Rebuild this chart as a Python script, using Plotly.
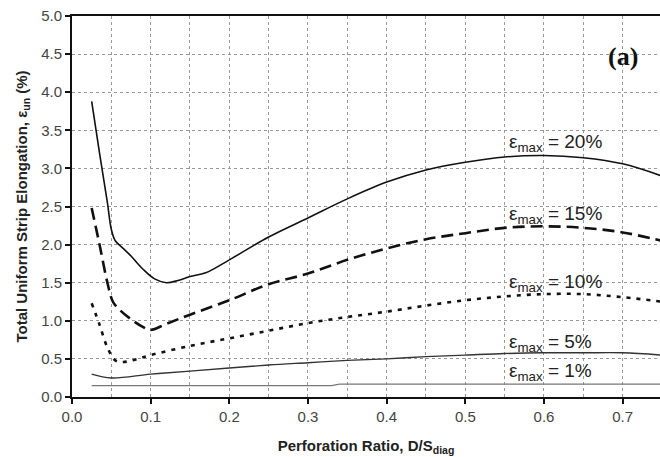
import plotly.graph_objects as go

# ---- data ----
x20 = [0.025, 0.035, 0.045, 0.05, 0.055, 0.065, 0.075, 0.09, 0.105, 0.12, 0.135, 0.15, 0.17, 0.2, 0.25, 0.3, 0.35, 0.4, 0.45, 0.5, 0.55, 0.6, 0.65, 0.7, 0.75]
y20 = [3.88, 3.2, 2.55, 2.2, 2.05, 1.95, 1.85, 1.68, 1.55, 1.50, 1.53, 1.58, 1.63, 1.80, 2.1, 2.35, 2.6, 2.82, 2.98, 3.08, 3.15, 3.17, 3.14, 3.06, 2.9]

x15 = [0.025, 0.035, 0.045, 0.052, 0.06, 0.075, 0.09, 0.1, 0.12, 0.15, 0.2, 0.25, 0.3, 0.35, 0.4, 0.45, 0.5, 0.55, 0.6, 0.65, 0.7, 0.75]
y15 = [2.48, 2.0, 1.5, 1.25, 1.15, 1.02, 0.92, 0.88, 0.96, 1.08, 1.27, 1.48, 1.62, 1.8, 1.95, 2.07, 2.15, 2.22, 2.24, 2.22, 2.16, 2.05]

x10 = [0.025, 0.035, 0.045, 0.055, 0.065, 0.08, 0.1, 0.15, 0.2, 0.25, 0.3, 0.35, 0.4, 0.45, 0.5, 0.55, 0.6, 0.65, 0.7, 0.75]
y10 = [1.23, 0.95, 0.65, 0.48, 0.46, 0.49, 0.55, 0.67, 0.77, 0.87, 0.97, 1.05, 1.12, 1.2, 1.27, 1.32, 1.35, 1.35, 1.31, 1.25]

x5 = [0.025, 0.05, 0.1, 0.15, 0.2, 0.25, 0.3, 0.35, 0.4, 0.45, 0.5, 0.55, 0.6, 0.65, 0.7, 0.75]
y5 = [0.3, 0.25, 0.3, 0.34, 0.38, 0.42, 0.45, 0.48, 0.5, 0.53, 0.55, 0.57, 0.58, 0.58, 0.58, 0.55]

x1 = [0.025, 0.33, 0.34, 0.75]
y1 = [0.15, 0.15, 0.17, 0.17]

labels = ["20%", "15%", "10%", "5%", "1%"]
label_y = [3.33, 2.39, 1.50, 0.71, 0.33]

fig = go.Figure()
fig.add_trace(go.Scatter(x=x20, y=y20, mode="lines", line=dict(color="#111", width=1.6, shape="spline")))
fig.add_trace(go.Scatter(x=x15, y=y15, mode="lines", line=dict(color="#111", width=2.6, dash="12px,6px", shape="spline")))
fig.add_trace(go.Scatter(x=x10, y=y10, mode="lines", line=dict(color="#111", width=2.6, dash="4px,6px", shape="spline")))
fig.add_trace(go.Scatter(x=x5, y=y5, mode="lines", line=dict(color="#333", width=1.4, shape="spline")))
fig.add_trace(go.Scatter(x=x1, y=y1, mode="lines", line=dict(color="#777", width=1.2)))

for lab, ly in zip(labels, label_y):
    fig.add_annotation(x=0.553, y=ly, xref="x", yref="y", xanchor="left", yanchor="middle",
                       text="ε<sub>max</sub> = " + lab, showarrow=False,
                       font=dict(family="Liberation Sans, Arial", size=19, color="#222"))

fig.add_annotation(x=0.70, y=4.47, xref="x", yref="y", xanchor="center", yanchor="middle",
                   text="<b>(a)</b>", showarrow=False,
                   font=dict(family="Liberation Serif, Times New Roman", size=26, color="#111"))

grid = dict(showgrid=True, gridcolor="#999", griddash="dot", gridwidth=1)

fig.update_layout(
    width=660, height=457,
    margin=dict(l=72, r=0, t=16, b=60),
    plot_bgcolor="white", paper_bgcolor="white",
    showlegend=False,
    font=dict(family="Liberation Sans, Arial", color="#444", size=15),
    xaxis=dict(range=[0, 0.7475], dtick=0.1, tick0=0, tickformat=".1f",
               showline=True, linecolor="#111", linewidth=2, mirror=True,
               ticks="outside", ticklen=5, tickwidth=2, tickcolor="#111",
               zeroline=False,
               minor=dict(dtick=0.05, showgrid=True, gridcolor="#999", griddash="dot", gridwidth=1),
               title=dict(text="<b>Perforation Ratio, D/S<sub>diag</sub></b>", font=dict(size=15, color="#222"), standoff=16),
               **grid),
    yaxis=dict(range=[0, 5], dtick=0.5, tick0=0, tickformat=".1f",
               showline=True, linecolor="#111", linewidth=2,
               ticks="outside", ticklen=5, tickwidth=2, tickcolor="#111",
               zeroline=False,
               title=dict(text="<b>Total Uniform Strip Elongation, ε<sub>un</sub> (%)</b>", font=dict(size=15, color="#222"), standoff=10),
               **grid),
)

fig.write_html("out.html")
